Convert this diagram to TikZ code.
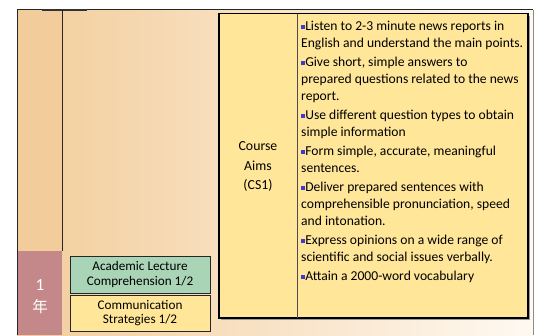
\documentclass[tikz,border=0pt]{standalone}
\usepackage{fontspec}
\setmainfont{Carlito}
\newfontfamily\cjkfont{Noto Sans CJK JP}
\definecolor{bgl}{HTML}{F2CD9B}
\definecolor{bgr}{HTML}{FFF9F2}
\definecolor{colorange}{HTML}{F2CC9A}
\definecolor{rose}{HTML}{C4888A}
\definecolor{boxyellow}{HTML}{FFE699}
\definecolor{boxgreen}{HTML}{A9D4B6}
\definecolor{bulletblue}{HTML}{3B3BD0}
\newcommand{\bl}{{\color{bulletblue}\rule[0.1em]{0.3em}{0.3em}}}
\tikzset{
  course/.style={draw=black!85, line width=0.9pt, inner sep=0pt, align=center, font=\fontsize{13.2}{14.8}\selectfont},
  bigbox/.style={draw=black, line width=1.3pt, fill=boxyellow},
}
\begin{document}
\begin{tikzpicture}[x=1pt,y=-1pt]
\useasboundingbox (0,0) rectangle (538,335);
\fill[white] (0,0) rectangle (538,335);
% background
\shade[left color=bgl, right color=bgr] (17,9.5) rectangle (533,335);
\fill[colorange] (17,9.5) rectangle (62,251);
\fill[rose] (17,251) rectangle (62,335);
\draw[black!85, line width=0.8pt] (17,335) -- (17,9.5) -- (533,9.5);
\draw[black!80, line width=1.6pt] (42,9.8) -- (87,9.8);
\draw[black!45, line width=0.9pt] (533,9.5) -- (533,335);
\draw[black!85, line width=0.8pt] (62,9.5) -- (62,251);
% year label
\node[text=white, font=\fontsize{17}{18}\selectfont] (one) at (40,285) {1};
\node[text=white, font=\cjkfont\fontsize{15.5}{18}\selectfont] (nen) at (40,307) {年};
% course boxes
\node[course, fill=boxgreen, minimum width=140pt, minimum height=37pt] (alc) at (140,274.5) {Academic Lecture\\Comprehension 1/2};
\node[course, fill=boxyellow, minimum width=140pt, minimum height=36pt] (cs) at (140,313) {Communication\\Strategies 1/2};
% big box
\fill[black!40] (221,16) rectangle (530,320);
\draw[bigbox] (219,13.5) rectangle (528,318);
\coordinate (dtop) at (297,13.5);
\coordinate (dbot) at (297,318);
\draw[black!70, line width=0.8pt] (dtop) -- (dbot);
\node[align=center, font=\fontsize{13.8}{19.5}\selectfont, inner sep=0pt] (aimslabel) at (258,166.5) {Course\\Aims\\(CS1)};
\node[anchor=north west, align=left, inner sep=0pt, font=\fontsize{13.6}{17}\selectfont] (aims) at (301,21) {%
\bl Listen to 2-3 minute news reports in\\
English and understand the main points.\\[2pt]
\bl Give short, simple answers to\\
prepared questions related to the news\\
report.\\[2pt]
\bl Use different question types to obtain\\
simple information\\[2pt]
\bl Form simple, accurate, meaningful\\
sentences.\\[2pt]
\bl Deliver prepared sentences with\\
comprehensible pronunciation, speed\\
and intonation.\\[2pt]
\bl Express opinions on a wide range of\\
scientific and social issues verbally.\\[2pt]
\bl Attain a 2000-word vocabulary};
\end{tikzpicture}
\end{document}
